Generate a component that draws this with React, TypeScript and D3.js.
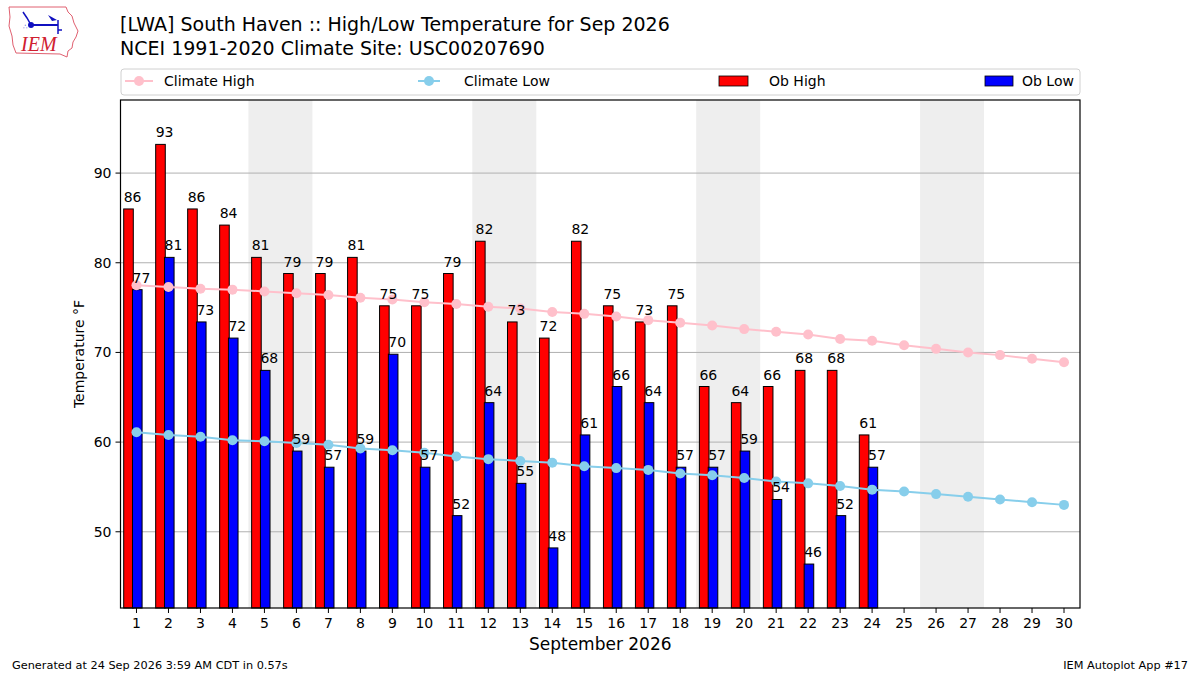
import * as d3 from "d3";

const days = d3.range(1, 31);
// observed values (whole °C converted to °F)
const obHigh = [86, 93.2, 86, 84.2, 80.6, 78.8, 78.8, 80.6, 75.2, 75.2, 78.8, 82.4, 73.4, 71.6, 82.4, 75.2, 73.4, 75.2, 66.2, 64.4, 66.2, 68, 68, 60.8];
const obLow = [77, 80.6, 73.4, 71.6, 68, 59, 57.2, 59, 69.8, 57.2, 51.8, 64.4, 55.4, 48.2, 60.8, 66.2, 64.4, 57.2, 57.2, 59, 53.6, 46.4, 51.8, 57.2];
const climateHigh = [77.5, 77.3, 77.1, 77.0, 76.8, 76.6, 76.4, 76.1, 75.9, 75.6, 75.4, 75.1, 74.9, 74.5, 74.3, 74.0, 73.6, 73.3, 73.0, 72.6, 72.3, 72.0, 71.5, 71.3, 70.8, 70.4, 70.0, 69.7, 69.3, 68.9];
const climateLow = [61.1, 60.8, 60.6, 60.2, 60.1, 59.9, 59.7, 59.3, 59.1, 58.8, 58.4, 58.1, 57.9, 57.7, 57.3, 57.1, 56.9, 56.5, 56.3, 56.0, 55.6, 55.4, 55.1, 54.7, 54.5, 54.2, 53.9, 53.6, 53.3, 53.0];
const weekendStarts = [5, 12, 19, 26];
const yTicks = [50, 60, 70, 80, 90];

const W = 1200;
const H = 675;
const m = { left: 120.5, right: 1080, top: 100, bottom: 608 };
const font = "DejaVu Sans, sans-serif";
const fs = 14;

export default function App() {
  const x = d3.scaleLinear().domain([0.5, 30.5]).range([m.left, m.right]);
  const y = d3.scaleLinear().domain([41.5, 98.15]).range([m.bottom, m.top]);
  const bw = x(0.3) - x(0);

  const hiLine = d3.line<number>().x((_, i) => x(days[i])).y((d) => y(d))(climateHigh) || "";
  const loLine = d3.line<number>().x((_, i) => x(days[i])).y((d) => y(d))(climateLow) || "";

  return (
    <svg width={W} height={H} style={{ position: "absolute", left: 0, top: 0, background: "#fff" }} fontFamily={font}>
      {/* logo */}
      <g>
        <path
          d="M9,7 L66,7 L68,12 L72,16 L74,23 L78,31 L76,37 L73,42 L72,48 L68,51 L67,57 L60,54 L16,53 L13,45 L12,36 L9,26 L10,17 Z"
          fill="#fff" stroke="#e06070" strokeWidth={1} />
        <line x1={31} y1={25} x2={58} y2={25} stroke="#1010c0" strokeWidth={2} />
        <circle cx={31} cy={25} r={3} fill="#1010c0" />
        <path d="M23,12 L27,18 L31,25" stroke="#1010c0" strokeWidth={1.5} fill="none" />
        <path d="M48,15 L57,20 L52,21 Z" fill="#1010c0" />
        <line x1={58} y1={20} x2={58} y2={34} stroke="#1010c0" strokeWidth={1.5} />
        <line x1={58} y1={30} x2={62} y2={30} stroke="#1010c0" strokeWidth={1.5} />
        <text x={23} y={29} fontSize={7} fill="#1010c0">∴</text>
        <text x={21} y={51} fontSize={20} fontStyle="italic" fontFamily="Liberation Serif, serif" fill="#d02030">IEM</text>
      </g>

      {/* titles */}
      <text x={120} y={31} fontSize={19} fill="#000">[LWA] South Haven :: High/Low Temperature for Sep 2026</text>
      <text x={120} y={55} fontSize={19} fill="#000">NCEI 1991-2020 Climate Site: USC00207690</text>

      {/* weekend shading */}
      {weekendStarts.map((d) => (
        <rect key={d} x={x(d - 0.5)} y={m.top} width={x(d + 1.5) - x(d - 0.5)} height={m.bottom - m.top} fill="#eeeeee" />
      ))}

      {/* grid */}
      {yTicks.map((t) => (
        <line key={t} x1={m.left} x2={m.right} y1={y(t)} y2={y(t)} stroke="#b0b0b0" strokeWidth={1} />
      ))}

      {/* bars */}
      {obHigh.map((v, i) => (
        <rect key={"h" + i} x={x(days[i] - 0.4)} y={y(v)} width={bw} height={m.bottom - y(v)} fill="#ff0000" stroke="#000" strokeWidth={1} />
      ))}
      {obLow.map((v, i) => (
        <rect key={"l" + i} x={x(days[i] - 0.125)} y={y(v)} width={bw} height={m.bottom - y(v)} fill="#0000ff" stroke="#000" strokeWidth={1} />
      ))}

      {/* climate lines */}
      <path d={hiLine} fill="none" stroke="#ffc0cb" strokeWidth={2} />
      {climateHigh.map((v, i) => (
        <circle key={"ch" + i} cx={x(days[i])} cy={y(v)} r={5} fill="#ffc0cb" />
      ))}
      <path d={loLine} fill="none" stroke="#87ceeb" strokeWidth={2} />
      {climateLow.map((v, i) => (
        <circle key={"cl" + i} cx={x(days[i])} cy={y(v)} r={5} fill="#87ceeb" />
      ))}

      {/* bar labels */}
      {obHigh.map((v, i) => (
        <text key={"th" + i} x={x(days[i] - 0.4)} y={y(v) - 7} fontSize={fs} fill="#000">{Math.round(v)}</text>
      ))}
      {obLow.map((v, i) => (
        <text key={"tl" + i} x={x(days[i] - 0.125)} y={y(v) - 7} fontSize={fs} fill="#000">{Math.round(v)}</text>
      ))}

      {/* frame */}
      <rect x={m.left} y={m.top} width={m.right - m.left} height={m.bottom - m.top} fill="none" stroke="#000" strokeWidth={1.2} />

      {/* y axis */}
      {yTicks.map((t) => (
        <g key={"yt" + t}>
          <line x1={m.left - 5} x2={m.left} y1={y(t)} y2={y(t)} stroke="#000" />
          <text x={m.left - 9} y={y(t)} dy="0.35em" textAnchor="end" fontSize={fs}>{t}</text>
        </g>
      ))}
      <text transform={`translate(84,${(m.top + m.bottom) / 2}) rotate(-90)`} textAnchor="middle" fontSize={fs}>Temperature °F</text>

      {/* x axis */}
      {days.map((d) => (
        <g key={"xt" + d}>
          <line x1={x(d)} x2={x(d)} y1={m.bottom} y2={m.bottom + 5} stroke="#000" />
          <text x={x(d)} y={m.bottom + 20} textAnchor="middle" fontSize={fs}>{d}</text>
        </g>
      ))}
      <text x={(m.left + m.right) / 2} y={650} textAnchor="middle" fontSize={17}>September 2026</text>

      {/* legend */}
      <rect x={121} y={69} width={959} height={26} rx={3} fill="#fff" stroke="#d0d0d0" strokeWidth={1} />
      <line x1={125} x2={153} y1={81} y2={81} stroke="#ffc0cb" strokeWidth={2} />
      <circle cx={139} cy={81} r={5} fill="#ffc0cb" />
      <text x={164} y={81} dy="0.35em" fontSize={fs}>Climate High</text>
      <line x1={418} x2={440} y1={81} y2={81} stroke="#87ceeb" strokeWidth={2} />
      <circle cx={429} cy={81} r={5} fill="#87ceeb" />
      <text x={464} y={81} dy="0.35em" fontSize={fs}>Climate Low</text>
      <rect x={719} y={76} width={29} height={10} fill="#ff0000" stroke="#000" strokeWidth={0.8} />
      <text x={769} y={81} dy="0.35em" fontSize={fs}>Ob High</text>
      <rect x={985} y={76} width={28} height={10} fill="#0000ff" stroke="#000" strokeWidth={0.8} />
      <text x={1022} y={81} dy="0.35em" fontSize={fs}>Ob Low</text>

      {/* footer */}
      <text x={12} y={669} fontSize={11.3}>Generated at 24 Sep 2026 3:59 AM CDT in 0.57s</text>
      <text x={1188} y={669} textAnchor="end" fontSize={11.3}>IEM Autoplot App #17</text>
    </svg>
  );
}
